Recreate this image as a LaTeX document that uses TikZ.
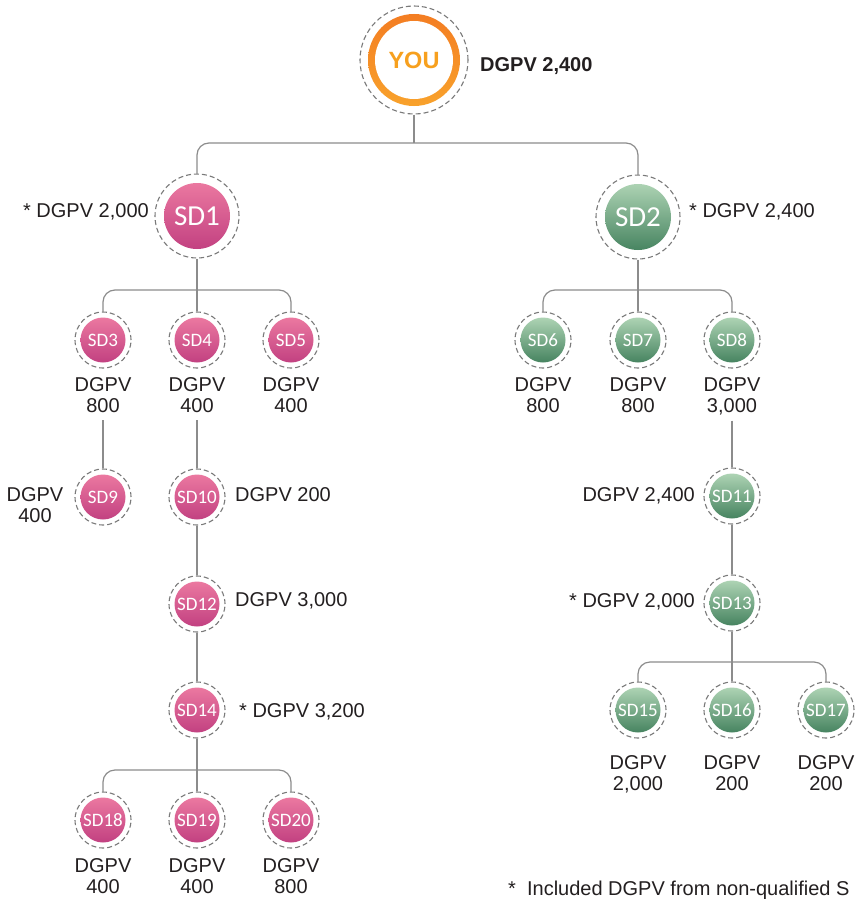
\documentclass[tikz,border=0pt]{standalone}
\usepackage{fontspec}
\setmainfont{Liberation Sans}
\newfontfamily\sdfont{Carlito}
\definecolor{linegray}{HTML}{8C8C8C}
\definecolor{dashgray}{HTML}{7A7A7A}
\definecolor{txt}{HTML}{231F20}
\definecolor{pinkT}{HTML}{F07FA4}
\definecolor{pinkB}{HTML}{BD3A7D}
\definecolor{greenT}{HTML}{BADDBE}
\definecolor{greenB}{HTML}{3A7A56}
\definecolor{orT}{HTML}{F37A22}
\definecolor{orB}{HTML}{F9A52C}
\definecolor{youor}{HTML}{F7A01E}
\tikzset{
  conn/.style={draw=linegray, line width=1.2pt, rounded corners=12pt},
  ring/.style={circle, draw=dashgray, dash pattern=on 5pt off 3pt, line width=1.1pt, inner sep=0pt, text=white},
  bignode/.style={ring, minimum size=84pt, font=\sdfont\fontsize{29}{29}\selectfont},
  smallnode/.style={ring, minimum size=56pt, font=\sdfont\fontsize{19}{19}\selectfont},
  pinkfill/.style={path picture={\shade[top color=pinkT, bottom color=pinkB] (path picture bounding box.center) circle[radius=#1];}},
  greenfill/.style={path picture={\shade[top color=greenT, bottom color=greenB] (path picture bounding box.center) circle[radius=#1];}},
  lab/.style={font=\fontsize{20}{21.7}\selectfont, text=txt, inner sep=0pt},
  sidelab/.style={lab, text height=14.3pt, text depth=0pt},
  undlab/.style={lab, align=center, anchor=north},
}
\begin{document}
\begin{tikzpicture}[x=1pt, y=1pt]
\fill[white] (0,0) rectangle (857,-899);
\useasboundingbox (0,0) rectangle (857,-899);

% YOU
\node[ring, minimum size=108pt, path picture={
   \shade[top color=orT, bottom color=orB] (path picture bounding box.center) circle[radius=46];
   \fill[white] (path picture bounding box.center) circle[radius=39];},
   font=\bfseries\fontsize{23.5}{23.5}\selectfont, text=youor] (you) at (414,-60) {YOU};
\node[sidelab, anchor=west, font=\bfseries\fontsize{20}{21.7}\selectfont] (lyou) at (480,-64) {DGPV 2,400};

% level 1
\node[bignode, pinkfill=33] (sd1) at (197,-216) {SD1};
\node[bignode, greenfill=33] (sd2) at (638,-217) {SD2};
\node[sidelab, anchor=east] (l1) at (149,-210) {* DGPV 2,000};
\node[sidelab, anchor=west] (l2) at (689,-210) {* DGPV 2,400};

% level 2 left
\node[smallnode, pinkfill=22.5] (sd3) at (103,-340) {SD3};
\node[smallnode, pinkfill=22.5] (sd4) at (197,-340) {SD4};
\node[smallnode, pinkfill=22.5] (sd5) at (291,-340) {SD5};
\node[undlab] (l3) at (103,-377) {DGPV\\800};
\node[undlab] (l4) at (197,-377) {DGPV\\400};
\node[undlab] (l5) at (291,-377) {DGPV\\400};

% level 2 right
\node[smallnode, greenfill=22.5] (sd6) at (543,-340) {SD6};
\node[smallnode, greenfill=22.5] (sd7) at (638,-340) {SD7};
\node[smallnode, greenfill=22.5] (sd8) at (732,-340) {SD8};
\node[undlab] (l6) at (543,-377) {DGPV\\800};
\node[undlab] (l7) at (638,-377) {DGPV\\800};
\node[undlab] (l8) at (732,-377) {DGPV\\3,000};

% left chain
\node[smallnode, pinkfill=22.5] (sd9) at (103,-497) {SD9};
\node[undlab] (l9) at (35,-487) {DGPV\\400};
\node[smallnode, pinkfill=22.5] (sd10) at (197,-497) {SD10};
\node[sidelab, anchor=west] (l10) at (235,-494) {DGPV 200};
\node[smallnode, pinkfill=22.5] (sd12) at (197,-604) {SD12};
\node[sidelab, anchor=west] (l12) at (235,-599) {DGPV 3,000};
\node[smallnode, pinkfill=22.5] (sd14) at (197,-710) {SD14};
\node[sidelab, anchor=west] (l14) at (239,-710) {* DGPV 3,200};

\node[smallnode, pinkfill=22.5] (sd18) at (103,-820) {SD18};
\node[smallnode, pinkfill=22.5] (sd19) at (197,-820) {SD19};
\node[smallnode, pinkfill=22.5] (sd20) at (291,-820) {SD20};
\node[undlab] (l18) at (103,-858) {DGPV\\400};
\node[undlab] (l19) at (197,-858) {DGPV\\400};
\node[undlab] (l20) at (291,-858) {DGPV\\800};

% right chain
\node[smallnode, greenfill=22.5] (sd11) at (732,-496) {SD11};
\node[sidelab, anchor=east] (l11) at (695,-494) {DGPV 2,400};
\node[smallnode, greenfill=22.5] (sd13) at (732,-603) {SD13};
\node[sidelab, anchor=east] (l13) at (695,-600) {* DGPV 2,000};

\node[smallnode, greenfill=22.5] (sd15) at (638,-710) {SD15};
\node[smallnode, greenfill=22.5] (sd16) at (732,-710) {SD16};
\node[smallnode, greenfill=22.5] (sd17) at (826,-710) {SD17};
\node[undlab] (l15) at (638,-755) {DGPV\\2,000};
\node[undlab] (l16) at (732,-755) {DGPV\\200};
\node[undlab] (l17) at (826,-755) {DGPV\\200};

% footnote
\node[sidelab, anchor=west] (note) at (508,-888) {*\ \ Included DGPV from non-qualified S};

% connectors
\coordinate (b0) at (414,-143);
\coordinate (b1) at (197,-290);
\coordinate (b2) at (638,-290);
\coordinate (b14) at (197,-770);
\coordinate (b13) at (732,-662);

\draw[conn] (you.south) -- (b0);
\draw[conn] (sd1.north) |- (b0) -| (sd2.north);

\draw[conn] (sd1.south) -- (sd4.north);
\draw[conn] (sd3.north) |- (b1) -| (sd5.north);
\draw[conn] (sd2.south) -- (sd7.north);
\draw[conn] (sd6.north) |- (b2) -| (sd8.north);

\draw[conn, shorten <=7pt] (l3.south) -- (sd9.north);
\draw[conn, shorten <=7pt] (l4.south) -- (sd10.north);
\draw[conn] (sd10.south) -- (sd12.north);
\draw[conn] (sd12.south) -- (sd14.north);
\draw[conn] (sd14.south) -- (sd19.north);
\draw[conn] (sd18.north) |- (b14) -| (sd20.north);

\draw[conn, shorten <=5pt] (l8.south) -- (sd11.north);
\draw[conn] (sd11.south) -- (sd13.north);
\draw[conn] (sd13.south) -- (sd16.north);
\draw[conn] (sd15.north) |- (b13) -| (sd17.north);
\end{tikzpicture}
\end{document}
